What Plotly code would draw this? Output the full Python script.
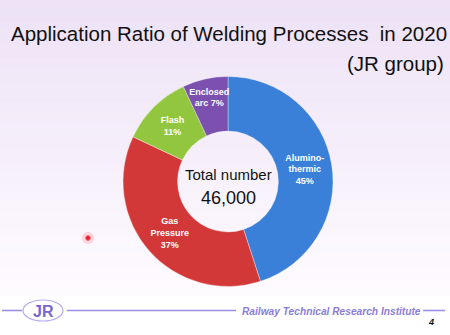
import plotly.graph_objects as go

# ---- data ----
processes = ["Aluminothermic", "Gas Pressure", "Flash", "Enclosed arc"]
display_labels = ["Alumino-<br>thermic<br>", "Gas<br>Pressure<br>", "Flash<br>", "Enclosed<br>arc "]
ratios = [45, 37, 11, 7]
total_number = 46000
slice_colors = ["#3a7fd8", "#d33838", "#93c63f", "#7b50ae"]

title_text = "Application Ratio of Welding Processes \u00a0in 2020"
subtitle_text = "(JR group)"
footer_text = "Railway Technical Research Institute"
page_number = "4"

W, H = 450, 335


def px(x):
    return x / W


def py(y):
    return 1 - y / H


fig = go.Figure()
fig.add_trace(go.Pie(
    labels=processes,
    values=ratios,
    customdata=display_labels,
    texttemplate="<b>%{customdata}%{value}%</b>",
    textposition="inside",
    insidetextorientation="horizontal",
    textfont=dict(family="Liberation Sans", size=9, color="white"),
    marker=dict(colors=slice_colors, line=dict(color="rgba(255,255,255,0.6)", width=0.6)),
    hole=0.48,
    sort=False,
    direction="clockwise",
    rotation=0,
    domain=dict(x=[px(123), px(333)], y=[py(287), py(76)]),
    hoverinfo="skip",
    showlegend=False,
))

shapes = []
# background gradient
n = 40
top = (237, 226, 246)
bot = (254, 251, 255)
for i in range(n):
    t = i / (n - 1)
    c = tuple(int(round(top[k] + (bot[k] - top[k]) * t)) for k in range(3))
    y0 = i * 296 / n
    y1 = (i + 1) * 296 / n + 0.5
    shapes.append(dict(type="rect", xref="paper", yref="paper", x0=0, x1=1,
                       y0=py(y1), y1=py(y0), fillcolor="rgb(%d,%d,%d)" % c,
                       line=dict(width=0), layer="below"))

line_col = "#9d90e4"
fy = py(310.5)
for x0, x1 in [(2, 22), (67, 236), (423, 445)]:
    shapes.append(dict(type="line", xref="paper", yref="paper", x0=px(x0), x1=px(x1),
                       y0=fy, y1=fy, line=dict(color=line_col, width=1.6)))
# JR logo ellipse
shapes.append(dict(type="circle", xref="paper", yref="paper", x0=px(23), x1=px(63),
                   y0=py(321), y1=py(300), line=dict(color="#b6aaf0", width=1.2)))
# pointer dot
shapes.append(dict(type="circle", xref="paper", yref="paper", x0=px(82), x1=px(94),
                   y0=py(244), y1=py(232), fillcolor="rgba(255,150,160,0.35)", line=dict(width=0)))
shapes.append(dict(type="circle", xref="paper", yref="paper", x0=px(85.5), x1=px(90.5),
                   y0=py(240.5), y1=py(235.5), fillcolor="#e0202a", line=dict(color="#ff8090", width=1)))

annotations = [
    dict(text=title_text, x=px(9), y=py(33), xanchor="left", yanchor="middle",
         font=dict(family="Liberation Sans", size=20.5, color="#111111")),
    dict(text=subtitle_text, x=px(446), y=py(63), xanchor="right", yanchor="middle",
         font=dict(family="Liberation Sans", size=20.5, color="#111111")),
    dict(text="Total number", x=px(228), y=py(175), xanchor="center", yanchor="middle",
         font=dict(family="Liberation Sans", size=15, color="#111111")),
    dict(text=f"{total_number:,}", x=px(228), y=py(198), xanchor="center", yanchor="middle",
         font=dict(family="Liberation Sans", size=18, color="#111111")),
    dict(text="<b>JR</b>", x=px(43), y=py(311), xanchor="center", yanchor="middle",
         font=dict(family="Liberation Sans", size=16, color="#7866d0")),
    dict(text="<b><i>" + footer_text + "</i></b>", x=px(240), y=py(311), xanchor="left", yanchor="middle",
         font=dict(family="Liberation Sans", size=10.2, color="#8a7ed8")),
    dict(text="<b><i>" + page_number + "</i></b>", x=px(431), y=py(322), xanchor="center", yanchor="middle",
         font=dict(family="Liberation Sans", size=9, color="#111111")),
]
for a in annotations:
    a.update(xref="paper", yref="paper", showarrow=False)

fig.update_layout(
    width=W, height=H,
    margin=dict(l=0, r=0, t=0, b=0),
    paper_bgcolor="white",
    plot_bgcolor="white",
    shapes=shapes,
    annotations=annotations,
    uniformtext=dict(minsize=9, mode="show"),
)

fig.write_html("out.html")
